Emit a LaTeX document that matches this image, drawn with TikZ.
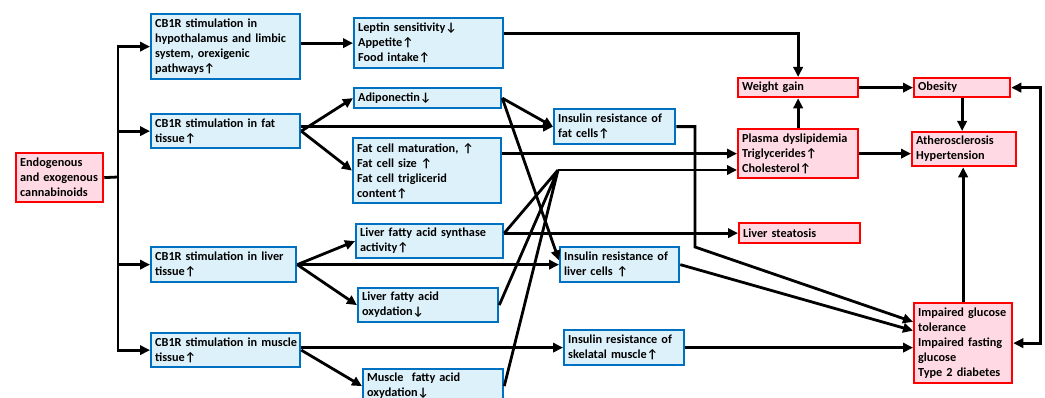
\documentclass[tikz,border=0pt]{standalone}
\usepackage{fontspec}
\setmainfont{Carlito}
\usetikzlibrary{arrows.meta}

\definecolor{boxblue}{RGB}{0,112,192}
\definecolor{boxcyan}{RGB}{221,241,250}
\definecolor{boxred}{RGB}{255,0,0}
\definecolor{boxpink}{RGB}{255,218,228}

\tikzset{
	cell/.style = {anchor = north west, align = left, inner xsep = 3pt, inner ysep = 0pt,
		line width = 1.7pt, font = \fontsize{9.2}{11.25}\selectfont\bfseries},
	blu/.style = {cell, draw = boxblue, fill = boxcyan},
	rd/.style = {cell, draw = boxred, fill = boxpink},
	wire/.style = {line width = 2.1pt},
	flow/.style = {wire, ->},
}
\newcommand{\up}{↑}
\newcommand{\dn}{↓}

\begin{document}
\begin{tikzpicture}[x = 0.75pt, y = -0.75pt, >={Triangle[length=7.5pt, width=7pt]}]
	\useasboundingbox (0,0) rectangle (1045,398);

	\node[rd, text width = 59.25pt, minimum height = 36.75pt] (src) at (15,152) {Endogenous\\\mbox{and exogenous}\\cannabinoids};

	\node[blu, text width = 105.75pt, minimum height = 48.75pt] (cbh) at (150,13) {CB1R stimulation in\\hypothalamus and limbic\\system, orexigenic\\pathways\up};
	\node[blu, text width = 105.75pt, minimum height = 25.5pt] (cbf) at (150,113) {CB1R stimulation in fat\\tissue\up};
	\node[blu, text width = 102.75pt, minimum height = 26.25pt] (cbl) at (150,246) {CB1R stimulation in liver\\tissue\up};
	\node[blu, text width = 105.75pt, minimum height = 25.5pt] (cbm) at (150,332) {\mbox{CB1R stimulation in muscle}\\tissue\up};

	\node[blu, text width = 105.75pt, minimum height = 37.5pt] (lep) at (353,17) {Leptin sensitivity\dn\\Appetite\up\\Food intake\up};
	\node[blu, text width = 104.25pt, minimum height = 15pt] (adi) at (353,87) {Adiponectin\dn};
	\node[blu, text width = 105pt, minimum height = 48.75pt] (fcm) at (352,137) {Fat cell maturation, \up\\Fat cell size \up\\Fat cell triglicerid\\content\up};
	\node[blu, text width = 104.25pt, minimum height = 25.5pt] (lfs) at (355,223) {Liver fatty acid synthase\\activity\up};
	\node[blu, text width = 99pt, minimum height = 25.5pt] (lfo) at (357,287) {Liver fatty acid\\oxydation\dn};
	\node[blu, text width = 99pt, minimum height = 25.5pt] (mfo) at (362,368) {Muscle\ \ fatty acid\\oxydation\dn};

	\node[blu, text width = 84.75pt, minimum height = 26.25pt] (irf) at (553,108) {Insulin resistance of\\fat cells\up};
	\node[blu, text width = 83.25pt, minimum height = 26.25pt] (irl) at (559,246) {Insulin resistance of\\liver cells \up};
	\node[blu, text width = 84pt, minimum height = 26.25pt] (irs) at (563,329) {Insulin resistance of\\skelatal muscle\up};

	\node[rd, text width = 84pt, minimum height = 14.25pt] (wg) at (737,77) {Weight gain};
	\node[rd, text width = 84pt, minimum height = 36.75pt] (pd) at (737,128) {Plasma dyslipidemia\\Triglycerides\up\\Cholesterol\up};
	\node[rd, text width = 84.75pt, minimum height = 15pt] (ls) at (738,222) {Liver steatosis};
	\node[rd, text width = 66pt, minimum height = 14.25pt] (ob) at (913,77) {Obesity};
	\node[rd, text width = 72pt, minimum height = 25.5pt] (ath) at (911,131) {Atherosclerosis\\Hypertension};
	\node[rd, text width = 67.5pt, minimum height = 60pt] (igt) at (913,302) {Impaired glucose\\tolerance\\Impaired fasting\\glucose\\Type 2 diabetes};

	\coordinate (jn) at (118,177);
	\coordinate (cv) at (558,170);
	\coordinate (bend) at (695,247);

	% cannabinoids to the four CB1R boxes
	\draw[wire] (src.east) -- (jn);
	\draw[flow] (jn) |- (cbh.west);
	\draw[flow] (jn) |- (cbf.west);
	\draw[flow] (jn) |- (cbl.west);
	\draw[flow] (jn) |- (cbm.west);

	\draw[flow] (cbh.east |- lep.west) -- (lep.west);
	\draw[flow] (cbf.east) -- (adi.west);
	\draw[flow] (cbf.east) -- (fcm.west);
	\draw[flow] (cbf.east |- irf.west) -- (irf.west);
	\draw[flow] (cbl.east) -- (lfs.west);
	\draw[flow] (cbl.east) -- (irl.west);
	\draw[flow] (cbl.east) -- (lfo.west);
	\draw[flow] (cbm.east |- irs.west) -- (irs.west);
	\draw[flow] (cbm.east) -- (mfo.west);

	\draw[flow] (adi.east) -- (irf.west);
	\draw[flow] (adi.east) -- (irl.176);
	\draw[flow] (fcm.east |- pd.west) -- (pd.west);
	\draw[wire] (lfs.east |- ls.west) -- (cv)
		(lfo.east) -- (cv)
		(mfo.east) -- (cv);
	\draw[flow] (cv) -- (cv -| pd.west);
	\draw[flow] (lfs.east |- ls.west) -- (ls.west);

	\draw[flow] (irf.east) -| (bend) -- (igt.157);
	\draw[flow] (irl.east) -- (igt.166);
	\draw[flow] (irs.east) -- (irs.east -| igt.west);

	% outcomes
	\draw[flow] (lep.7) -| (wg.north);
	\draw[flow] (pd.north) -- (wg.south);
	\draw[flow] (wg.east) -- (ob.west);
	\draw[flow] (ob.south) -- (ob.south |- ath.north);
	\draw[flow] (pd.east) -- (pd.east -| ath.west);
	\draw[flow] (igt.north) -- (igt.north |- ath.south);
	\draw[wire, <->] (ob.east) -- ++(29,0) |- (igt.east);
\end{tikzpicture}
\end{document}
